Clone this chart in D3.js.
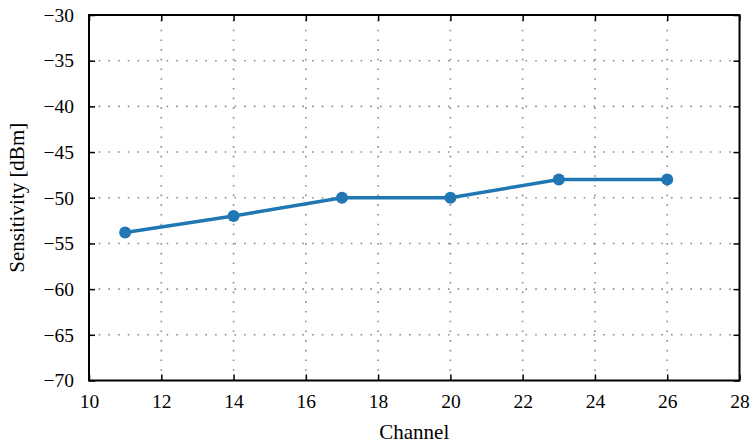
<!DOCTYPE html>
<html><head><meta charset="utf-8">
<script src="https://cdn.jsdelivr.net/npm/d3@7"></script>
<style>body{margin:0;background:#fff}svg{display:block}</style>
</head><body>
<script>
const channels = [11, 14, 17, 20, 23, 26];
const sensitivity = [-53.8, -52, -50, -50, -48, -48];
const xTicks = [10, 12, 14, 16, 18, 20, 22, 24, 26, 28];
const yTicks = [-30, -35, -40, -45, -50, -55, -60, -65, -70];

const FONT = '"Liberation Serif","Times New Roman",serif';
const W = 752, H = 443;
const m = {left: 89, right: 12.5, top: 15, bottom: 62.5};
const svg = d3.select("body").append("svg").attr("width", W).attr("height", H);
const x = d3.scaleLinear().domain([10, 28]).range([m.left, W - m.right]);
const y = d3.scaleLinear().domain([-70, -30]).range([H - m.bottom, m.top]);
const fmt = d => d < 0 ? "\u2212" + Math.abs(d) : String(d);

// grid
const g = svg.append("g");
g.selectAll(".gx").data(xTicks.slice(1, -1)).join("line")
  .attr("x1", d => x(d)).attr("x2", d => x(d)).attr("y1", y(-70)).attr("y2", y(-30))
  .attr("stroke", "#8c8c8c").attr("stroke-width", 1.6).attr("stroke-dasharray", "1.6,8.1");
g.selectAll(".gy").data(yTicks.slice(1, -1)).join("line")
  .attr("y1", d => y(d)).attr("y2", d => y(d)).attr("x1", x(10)).attr("x2", x(28))
  .attr("stroke", "#8c8c8c").attr("stroke-width", 1.6).attr("stroke-dasharray", "1.6,8.1");

// axes
const ax = (sel) => {
  sel.attr("font-family", FONT).attr("font-size", 19.5);
  sel.select(".domain").remove();
  sel.selectAll("text").style("font-family", FONT).style("font-size", "19.5px").attr("fill", "#000");
  sel.selectAll("line").attr("stroke", "#000").attr("stroke-width", 1.5);
};
svg.append("g").attr("transform", `translate(0,${y(-70)})`)
  .call(d3.axisBottom(x).tickValues(xTicks).tickFormat(fmt).tickSizeInner(-6).tickSizeOuter(0).tickPadding(14)).call(ax);
svg.append("g").attr("transform", `translate(0,${y(-30)})`)
  .call(d3.axisTop(x).tickValues(xTicks).tickFormat("").tickSizeInner(-6).tickSizeOuter(0)).call(ax);
svg.append("g").attr("transform", `translate(${x(10)},0)`)
  .call(d3.axisLeft(y).tickValues(yTicks).tickFormat(fmt).tickSizeInner(-6).tickSizeOuter(0).tickPadding(15)).call(ax);
svg.append("g").attr("transform", `translate(${x(28)},0)`)
  .call(d3.axisRight(y).tickValues(yTicks).tickFormat("").tickSizeInner(-6).tickSizeOuter(0)).call(ax);

svg.append("rect").attr("x", x(10)).attr("y", y(-30)).attr("width", x(28) - x(10)).attr("height", y(-70) - y(-30))
  .attr("fill", "none").attr("stroke", "#000").attr("stroke-width", 2);

// data
const pts = channels.map((c, i) => [c, sensitivity[i]]);
svg.append("path").datum(pts).attr("fill", "none").attr("stroke", "#1f77b4").attr("stroke-width", 3.4)
  .attr("d", d3.line().x(d => x(d[0])).y(d => y(d[1])));
svg.selectAll(".pt").data(pts).join("circle").attr("cx", d => x(d[0])).attr("cy", d => y(d[1])).attr("r", 6).attr("fill", "#1f77b4");

// labels
svg.append("text").attr("x", (x(10) + x(28)) / 2).attr("y", 439).attr("text-anchor", "middle")
  .style("font-family", FONT).style("font-size", "21px").text("Channel");
svg.append("text").attr("transform", `translate(24,${(y(-30) + y(-70)) / 2}) rotate(-90)`).attr("text-anchor", "middle")
  .style("font-family", FONT).style("font-size", "21px").text("Sensitivity [dBm]");
</script>
</body></html>
